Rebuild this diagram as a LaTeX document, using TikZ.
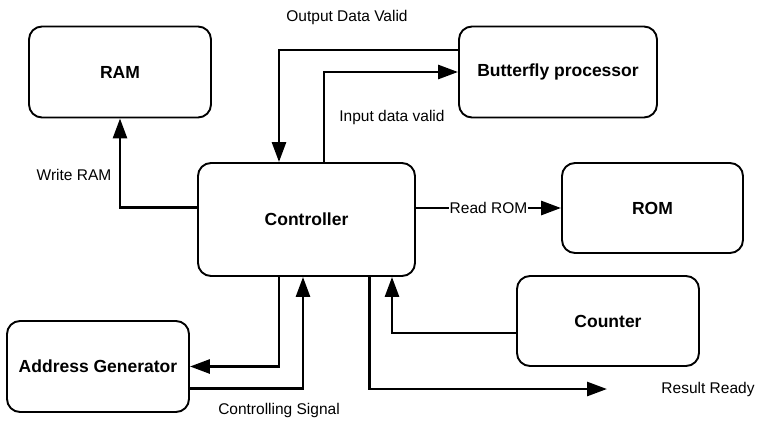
\documentclass[tikz,border=0pt]{standalone}
\usepackage{fontspec}
\setmainfont{Liberation Sans}
\usetikzlibrary{arrows.meta,calc}

\begin{document}
\begin{tikzpicture}[x=1pt,y=-1pt,>={Triangle[length=20pt,width=14pt]},
  block/.style={draw,line width=1.9pt,rounded corners=13pt,align=center,font=\fontsize{17.5}{20}\selectfont\bfseries},
  sig/.style={line width=2.8pt},
  lbl/.style={font=\fontsize{15.5}{18}\selectfont,inner sep=1pt}]
\useasboundingbox (0,0) rectangle (757,421);
\node[block,minimum width=182pt,minimum height=91pt] (ram) at (120,72) {RAM};
\node[block,minimum width=198pt,minimum height=91pt] (bfly) at (558,72) {Butterfly processor};
\node[block,minimum width=217pt,minimum height=113pt] (ctrl) at (306.5,219.5) {Controller};
\node[block,minimum width=181pt,minimum height=90pt] (rom) at (652.5,208) {ROM};
\node[block,minimum width=182pt,minimum height=90pt] (cnt) at (608,321) {Counter};
\node[block,minimum width=182pt,minimum height=91pt] (addr) at (98,366.5) {Address Generator};
\coordinate (rr) at (607,389);
% signals
\draw[sig,->] ([yshift=12pt]ctrl.west) -| (ram.south);
\draw[sig,->] ([yshift=22pt]bfly.west) -| ([xshift=-27.5pt]ctrl.north);
\draw[sig,->] ([xshift=17.5pt]ctrl.north) |- (bfly.west);
\draw[sig,->] (ctrl.east |- rom.west) -- node[lbl,fill=white]{Read ROM} (rom.west);
\draw[sig,->] ([yshift=-12pt]cnt.west) -| ([xshift=85.5pt]ctrl.south);
\draw[sig,->] ([xshift=63pt]ctrl.south) |- (rr);
\draw[sig,->] ([xshift=-27.5pt]ctrl.south) |- (addr.east);
\draw[sig,->] ([yshift=-22pt]addr.east) -| ([xshift=-3.5pt]ctrl.south);
% labels
\node[lbl] (odv) at (347,17) {Output Data Valid};
\node[lbl] (idv) at (392,117) {Input data valid};
\node[lbl] (wram) at (74,175) {Write RAM};
\node[lbl] (csig) at (279,410) {Controlling Signal};
\node[lbl] (rres) at (708,389) {Result Ready};
\end{tikzpicture}
\end{document}
